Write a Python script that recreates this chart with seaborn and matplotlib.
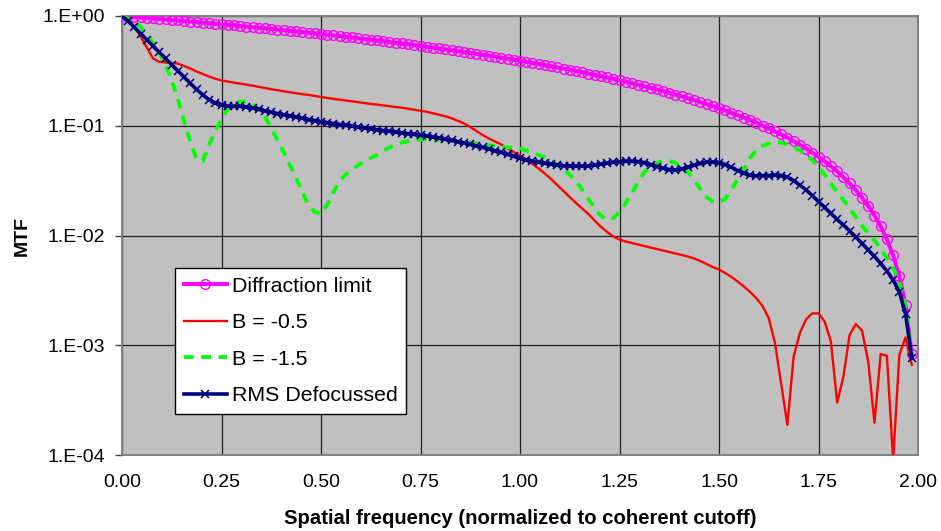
import numpy as np
import pandas as pd
import matplotlib
matplotlib.use("Agg")
import matplotlib.pyplot as plt
import seaborn as sns

plt.rcParams['font.family'] = ['Liberation Sans', 'DejaVu Sans']

# sample grid: 128 points, step 1/64 of coherent cutoff
freq = np.arange(128) / 64

diffraction = [1.000, 0.990, 0.980, 0.970, 0.960, 0.950, 0.940, 0.930, 0.9205, 0.9106,
 0.9006, 0.8907, 0.8808, 0.8709, 0.8610, 0.8511, 0.8413, 0.8314, 0.8215, 0.8117,
 0.8019, 0.7920, 0.7822, 0.7725, 0.7627, 0.7529, 0.7432, 0.7334, 0.7237, 0.7140,
 0.7043, 0.6947, 0.6850, 0.6754, 0.6658, 0.6562, 0.6467, 0.6371, 0.6276, 0.6181,
 0.6087, 0.5992, 0.5898, 0.5805, 0.5711, 0.5618, 0.5525, 0.5432, 0.5340, 0.5248,
 0.5156, 0.5065, 0.4973, 0.4883, 0.4792, 0.4702, 0.4613, 0.4524, 0.4435, 0.4346,
 0.4258, 0.4170, 0.4083, 0.3996, 0.3910, 0.3824, 0.3739, 0.3654, 0.3569, 0.3485,
 0.3402, 0.3319, 0.3236, 0.3154, 0.3073, 0.2992, 0.2911, 0.2832, 0.2753, 0.2674,
 0.2596, 0.2519, 0.2442, 0.2366, 0.2291, 0.2216, 0.2142, 0.2068, 0.1996, 0.1924,
 0.1853, 0.1783, 0.1713, 0.1644, 0.1576, 0.1509, 0.1443, 0.1378, 0.1313, 0.1250,
 0.1187, 0.1125, 0.1065, 0.1005, 0.0947, 0.0889, 0.0833, 0.0778, 0.0724, 0.0671,
 0.0620, 0.0569, 0.0521, 0.0473, 0.0427, 0.0383, 0.0340, 0.0299, 0.0259, 0.0221,
 0.0186, 0.0152, 0.0121, 0.00921, 0.00660, 0.00429, 0.00234, 0.000828]

b_05 = [1.000, 0.939, 0.794, 0.650, 0.516, 0.410, 0.382, 0.378, 0.373, 0.368,
 0.350, 0.332, 0.312, 0.296, 0.281, 0.268, 0.259, 0.253, 0.247, 0.242,
 0.237, 0.232, 0.226, 0.221, 0.215, 0.211, 0.206, 0.202, 0.198, 0.194,
 0.191, 0.187, 0.183, 0.179, 0.176, 0.173, 0.170, 0.167, 0.164, 0.161,
 0.158, 0.156, 0.153, 0.151, 0.148, 0.146, 0.143, 0.140, 0.137, 0.134,
 0.130, 0.126, 0.122, 0.117, 0.111, 0.105, 0.0974, 0.0896, 0.0823, 0.0765,
 0.0719, 0.0675, 0.0621, 0.0576, 0.0536, 0.0493, 0.0448, 0.0408, 0.0367, 0.0327,
 0.0288, 0.0254, 0.0224, 0.0198, 0.0176, 0.0157, 0.0137, 0.0120, 0.0108, 0.00979,
 0.00919, 0.00882, 0.00855, 0.00828, 0.00802, 0.00777, 0.00753, 0.00730, 0.00707, 0.00686,
 0.00664, 0.00644, 0.00617, 0.00586, 0.00550, 0.00516, 0.00490, 0.00455, 0.00419, 0.00381,
 0.00343, 0.00306, 0.00269, 0.00228, 0.00177, 0.00105, 0.000444, 0.000188, 0.000786, 0.00129,
 0.00172, 0.00195, 0.00195, 0.00164, 0.00108, 0.000300, 0.000517, 0.00124, 0.00156, 0.00136,
 0.000708, 0.000197, 0.000832, 0.000803, 0.0000900, 0.000815, 0.00118, 0.000661]

b_15 = [1.000, 0.949, 0.882, 0.794, 0.671, 0.568, 0.460, 0.358, 0.261, 0.172,
 0.110, 0.0711, 0.0498, 0.0477, 0.0668, 0.0896, 0.115, 0.142, 0.159, 0.166,
 0.166, 0.158, 0.142, 0.120, 0.0954, 0.0742, 0.0576, 0.0439, 0.0334, 0.0249,
 0.0190, 0.0164, 0.0157, 0.0190, 0.0249, 0.0314, 0.0360, 0.0400, 0.0439, 0.0472,
 0.0508, 0.0541, 0.0589, 0.0633, 0.0675, 0.0704, 0.0726, 0.0742, 0.0749, 0.0752,
 0.0749, 0.0745, 0.0742, 0.0734, 0.0723, 0.0714, 0.0704, 0.0689, 0.0675, 0.0664,
 0.0654, 0.0644, 0.0636, 0.0627, 0.0621, 0.0595, 0.0571, 0.0541, 0.0514, 0.0477,
 0.0443, 0.0408, 0.0356, 0.0314, 0.0260, 0.0215, 0.0178, 0.0151, 0.0140, 0.0144,
 0.0162, 0.0198, 0.0244, 0.0307, 0.0379, 0.0430, 0.0458, 0.0477, 0.0477, 0.0458,
 0.0421, 0.0379, 0.0320, 0.0265, 0.0224, 0.0204, 0.0202, 0.0215, 0.0260, 0.0327,
 0.0404, 0.0508, 0.0601, 0.0654, 0.0689, 0.0704, 0.0704, 0.0675, 0.0640, 0.0595,
 0.0541, 0.0487, 0.0425, 0.0356, 0.0298, 0.0249, 0.0211, 0.0178, 0.0147, 0.0123,
 0.0105, 0.00900, 0.00753, 0.00624, 0.00506, 0.00377, 0.00233, 0.000815]

rms_defocus = [1.000, 0.897, 0.787, 0.690, 0.606, 0.532, 0.467, 0.410, 0.359, 0.315,
 0.277, 0.243, 0.214, 0.191, 0.173, 0.161, 0.155, 0.151, 0.150, 0.150,
 0.148, 0.145, 0.141, 0.136, 0.1326, 0.1293, 0.1261, 0.1227, 0.1197, 0.1169,
 0.1140, 0.1114, 0.1089, 0.1068, 0.1048, 0.1026, 0.1007, 0.0991, 0.0970, 0.0954,
 0.0936, 0.0920, 0.0905, 0.0890, 0.0875, 0.0861, 0.0847, 0.0834, 0.0820, 0.0807,
 0.0790, 0.0774, 0.0754, 0.0735, 0.0716, 0.0697, 0.0676, 0.0655, 0.0635, 0.0614,
 0.0592, 0.0571, 0.0548, 0.0527, 0.0505, 0.0487, 0.0474, 0.0464, 0.0455, 0.0446,
 0.0439, 0.0433, 0.0430, 0.0428, 0.0428, 0.0430, 0.0437, 0.0446, 0.0456, 0.0465,
 0.0470, 0.0475, 0.0475, 0.0472, 0.0461, 0.0443, 0.0425, 0.0410, 0.0399, 0.0395,
 0.0404, 0.0418, 0.0437, 0.0453, 0.0465, 0.0467, 0.0462, 0.0443, 0.0418, 0.0391,
 0.0369, 0.0354, 0.0350, 0.0351, 0.0352, 0.0354, 0.0352, 0.0341, 0.0317, 0.0288,
 0.0260, 0.0231, 0.0204, 0.0180, 0.0159, 0.0140, 0.0125, 0.0110, 0.00969, 0.00845,
 0.00738, 0.00644, 0.00556, 0.00475, 0.00393, 0.00306, 0.00193, 0.000770]

series_names = ["Diffraction limit", "B = -0.5", "B = -1.5", "RMS Defocussed"]
x_ticks = [0.0, 0.25, 0.5, 0.75, 1.0, 1.25, 1.5, 1.75, 2.0]
x_tick_labels = ["0.00", "0.25", "0.50", "0.75", "1.00", "1.25", "1.50", "1.75", "2.00"]
y_ticks = [1e-4, 1e-3, 1e-2, 1e-1, 1e0]
y_tick_labels = ["1.E-04", "1.E-03", "1.E-02", "1.E-01", "1.E+00"]

W, H = 941, 531
fig = plt.figure(figsize=(W / 100, H / 100), dpi=100)
L, R, T, B = 122, 918, 16, 455
ax = fig.add_axes([L / W, 1 - B / H, (R - L) / W, (B - T) / H])
ax.set_facecolor('#C0C0C0')
ax.set_yscale('log')

sns.lineplot(x=freq, y=diffraction, ax=ax, color='#FF00FF', lw=2.8, marker='o',
             markersize=7.0, markerfacecolor='none', markeredgecolor='#FF00FF',
             markeredgewidth=1.0, label=series_names[0], zorder=3)
sns.lineplot(x=freq, y=b_05, ax=ax, color='#FF0000', lw=1.7,
             label=series_names[1], zorder=4)
sns.lineplot(x=freq, y=b_15, ax=ax, color='#00FF00', lw=2.7,
             label=series_names[2], zorder=5, dashes=False)
ax.lines[-1].set_dashes([2.6, 2.0])
sns.lineplot(x=freq, y=rms_defocus, ax=ax, color='#000080', lw=2.6, marker='x',
             markersize=6, markeredgecolor='#000080', markeredgewidth=1.1,
             label=series_names[3], zorder=6)

ax.set_xlim(0, 2)
ax.set_ylim(1e-4, 1)
ax.set_xticks(x_ticks)
ax.set_xticklabels(x_tick_labels)
ax.set_yticks(y_ticks)
ax.set_yticklabels(y_tick_labels)
ax.minorticks_off()
ax.tick_params(axis='y', length=5, width=1, color='#404040', pad=7, labelsize=14)
ax.tick_params(axis='x', length=0, pad=14, labelsize=14)

ax.set_axisbelow(True)
ax.grid(True, which='major', color='#202020', lw=0.9)
for s in ax.spines.values():
    s.set_color('#808080')
    s.set_linewidth(1.4)

ax.set_xlabel("Spatial frequency (normalized to coherent cutoff)", fontsize=14.6,
              fontweight='bold')
ax.set_ylabel("MTF", fontsize=14, fontweight='bold')
ax.xaxis.label.set_va('center')
ax.xaxis.set_label_coords(0.5, (B - 519) / (B - T))
ax.yaxis.label.set_va('center')
ax.yaxis.set_label_coords((22 - L) / (R - L), 0.5)

leg = ax.legend(loc='upper left', bbox_to_anchor=((175 - L) / (R - L), (B - 268) / (B - T)),
                borderaxespad=0, fontsize=15.4, frameon=True, fancybox=False,
                edgecolor='black', framealpha=1, handlelength=2.05,
                handletextpad=0.2, labelspacing=0.82, borderpad=0.4)
leg.get_frame().set_linewidth(1.0)

fig.savefig("out.png", dpi=100, facecolor='white')
